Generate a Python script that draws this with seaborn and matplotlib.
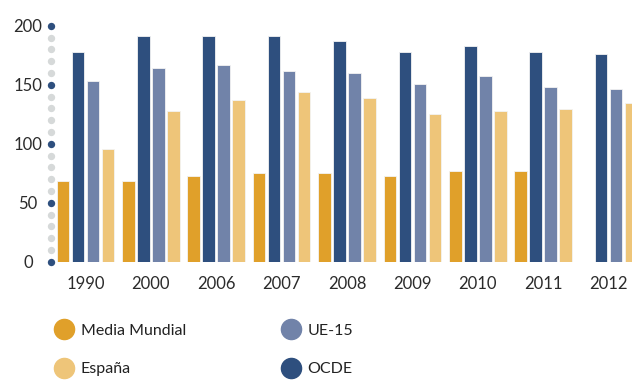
import numpy as np
import pandas as pd
import matplotlib
matplotlib.use("Agg")
import matplotlib.pyplot as plt
import seaborn as sns
from matplotlib.lines import Line2D
import matplotlib.transforms as mtransforms

years = ["1990", "2000", "2006", "2007", "2008", "2009", "2010", "2011", "2012"]
media_mundial = [68, 68, 72.5, 75, 75, 72.5, 77, 77, np.nan]
ocde = [178, 191.5, 191.5, 191.5, 187, 178, 182.5, 178, 176]
ue15 = [153, 164, 166.5, 161.5, 159.5, 150.5, 157, 148, 146]
espana = [95.5, 127.5, 137, 143.5, 138.5, 125, 127.5, 129.5, 134.5]

series_names = ["Media Mundial", "OCDE", "UE-15", "España"]
colors = {"Media Mundial": "#E0A02A", "OCDE": "#2E4F7E",
          "UE-15": "#7183A9", "España": "#EEC579"}
yticks = [0, 50, 100, 150, 200]

rows = []
for name, vals in zip(series_names, [media_mundial, ocde, ue15, espana]):
    for y, v in zip(years, vals):
        rows.append({"year": y, "serie": name, "value": v})
df = pd.DataFrame(rows)

sns.set_theme(style="white")
plt.rcParams["font.family"] = ["Lato", "DejaVu Sans"]

W, H = 632, 380
fig = plt.figure(figsize=(W / 100, H / 100), dpi=100)
ax_left, ax_right = 51, 632
y0_px, y200_px = 261.7, 25.7
ax = fig.add_axes([ax_left / W, 1 - y0_px / H, (ax_right - ax_left) / W, (y0_px - y200_px) / H])

sns.barplot(data=df, x="year", y="value", hue="serie", hue_order=series_names,
            order=years, palette=colors, width=0.917, gap=0.17, errorbar=None,
            legend=False, ax=ax, edgecolor="#f3f3f3", linewidth=0.6, saturation=1)

pitch = 65.4
c0 = 85.4
ax.set_xlim((ax_left - c0) / pitch, (ax_right - c0) / pitch)
ax.set_ylim(0, 200)
for s in ax.spines.values():
    s.set_visible(False)

# dotted axis
trans = mtransforms.blended_transform_factory(ax.transAxes, ax.transData)
minor = [v for v in range(0, 201, 10) if v not in yticks]
ax.scatter([0] * len(minor), minor, s=28, color="#D6D9D9", transform=trans,
           clip_on=False, zorder=5, linewidths=0)
ax.scatter([0] * len(yticks), yticks, s=28, color="#2E4F7E", transform=trans,
           clip_on=False, zorder=6, linewidths=0)

ax.set_yticks(yticks)
ax.set_yticklabels([str(t) for t in yticks], ha="center")
ax.tick_params(axis="y", length=0, pad=16.5, labelsize=12, labelcolor="#2b2b2b")
ax.tick_params(axis="x", length=0, pad=10.5, labelsize=12, labelcolor="#2b2b2b")
ax.set_xlabel("")
ax.set_ylabel("")

def handle(c):
    return Line2D([], [], marker="o", linestyle="", markersize=14.5,
                  markerfacecolor=c, markeredgecolor=c)

common = dict(loc="center left", frameon=False, borderpad=0, fontsize=11.5,
              labelspacing=1.5, handlelength=1.25, handletextpad=0.42,
              labelcolor="#222222", borderaxespad=0)
yc = 1 - 350 / H
fig.legend([handle(colors["Media Mundial"]), handle(colors["España"])],
           ["Media Mundial", "España"], bbox_to_anchor=(54 / W, yc), **common)
fig.legend([handle(colors["UE-15"]), handle(colors["OCDE"])],
           ["UE-15", "OCDE"], bbox_to_anchor=(280.7 / W, yc), **common)

fig.savefig("out.png", dpi=100, facecolor="white")
